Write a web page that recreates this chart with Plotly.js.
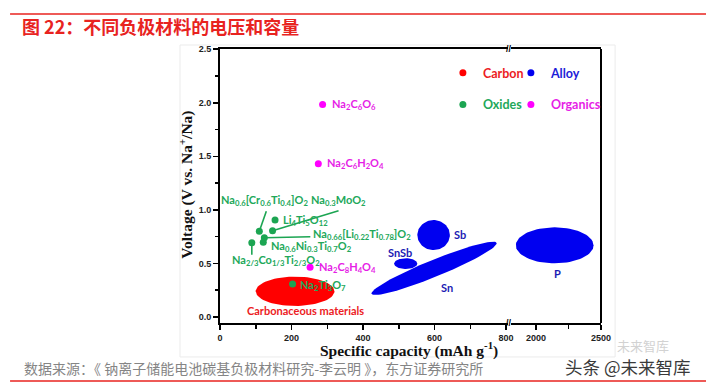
<!DOCTYPE html>
<html>
<head>
<meta charset="utf-8">
<script src="https://cdn.plot.ly/plotly-3.0.1.min.js"></script>
<style>html,body{margin:0;padding:0;background:#fff;}#chart{width:706px;height:386px;}</style>
</head>
<body>
<div id="chart"></div>
<script>
// ---------- data ----------
const oxideNames = [
  'Li<sub>4</sub>Ti<sub>5</sub>O<sub>12</sub>',
  'Na<sub>0.3</sub>MoO<sub>2</sub>',
  'Na<sub>0.6</sub>[Cr<sub>0.6</sub>Ti<sub>0.4</sub>]O<sub>2</sub>',
  'Na<sub>0.66</sub>[Li<sub>0.22</sub>Ti<sub>0.78</sub>]O<sub>2</sub>',
  'Na<sub>0.6</sub>Ni<sub>0.3</sub>Ti<sub>0.7</sub>O<sub>2</sub>',
  'Na<sub>2/3</sub>Co<sub>1/3</sub>Ti<sub>2/3</sub>O<sub>2</sub>',
  'Na<sub>2</sub>Ti<sub>3</sub>O<sub>7</sub>'
];
const oxideCapacity = [154, 147, 110, 124, 121, 89, 203];
const oxideVoltage  = [0.905, 0.805, 0.80, 0.74, 0.697, 0.693, 0.308];

const organicNames = [
  'Na<sub>2</sub>C<sub>6</sub>O<sub>6</sub>',
  'Na<sub>2</sub>C<sub>6</sub>H<sub>2</sub>O<sub>4</sub>',
  'Na<sub>2</sub>C<sub>8</sub>H<sub>4</sub>O<sub>4</sub>'
];
const organicCapacity = [287, 275, 252];
const organicVoltage  = [1.984, 1.43, 0.464];

// capacity / voltage regions (ellipses): major-axis ends and vertical half-extent
const regionNames    = ['Carbonaceous materials', 'Sb', 'SnSb', 'Sn', 'P'];
const regionClass    = ['Carbon', 'Alloy', 'Alloy', 'Alloy', 'Alloy'];
const regionCapStart = [100, 552, 487, 424, 1845];
const regionCapEnd   = [320, 643, 552, 774, 2443];
const regionVStart   = [0.24, 0.765, 0.498, 0.221, 0.669];
const regionVEnd     = [0.24, 0.765, 0.498, 0.688, 0.669];
const regionVHalf    = [0.137, 0.14, 0.05, 0.085, 0.168];

const xTicksLow  = [0, 200, 400, 600, 800];
const xTicksHigh = [2000, 2500];
const yTicks     = [0, 0.5, 1.0, 1.5, 2.0, 2.5];

// ---------- styles ----------
const C = {Carbon:'#ff0000', Alloy:'#0000f0', Oxides:'#1ca552', Organics:'#ff00ff'};
const TXT = {Carbon:'#ec1c24', Alloy:'#1c1cb4', Oxides:'#22a85a', Organics:'#e61ee6'};
const LEG = {Carbon:'#ec1c24', Alloy:'#1c1cd8', Oxides:'#22a85a', Organics:'#e61ee6'};
const labFont = (c) => ({family:'Lato, "Open Sans", sans-serif', size:11, color:c, weight:'bold'});
const BREAK = 1000; // capacities above this belong to the right (broken) segment

// ---------- traces ----------
const traces = [];
const N = 80;
regionNames.forEach((nm, i) => {
  const cx = (regionCapStart[i] + regionCapEnd[i]) / 2;
  const cy = (regionVStart[i] + regionVEnd[i]) / 2;
  const ux = (regionCapEnd[i] - regionCapStart[i]) / 2;
  const uy = (regionVEnd[i] - regionVStart[i]) / 2;
  const xs = [], ys = [];
  for (let k = 0; k <= N; k++) {
    const t = 2 * Math.PI * k / N;
    xs.push(cx + ux * Math.cos(t));
    ys.push(cy + uy * Math.cos(t) + regionVHalf[i] * Math.sin(t));
  }
  traces.push({
    type:'scatter', mode:'lines', x:xs, y:ys, fill:'toself',
    fillcolor:C[regionClass[i]], line:{width:0, color:C[regionClass[i]]},
    xaxis: cx > BREAK ? 'x2' : 'x', yaxis:'y', showlegend:false, hoverinfo:'skip'
  });
});

// legend entries for region classes
traces.push({type:'scatter', mode:'markers', x:[null], y:[null],
  marker:{size:7, color:C.Carbon},
  name:'<span style="color:' + LEG.Carbon + '">Carbon</span>', legend:'legend'});
traces.push({type:'scatter', mode:'markers', x:[null], y:[null],
  marker:{size:7, color:C.Alloy}, legendwidth:60,
  name:'<span style="color:' + LEG.Alloy + '">Alloy</span>', legend:'legend'});

traces.push({type:'scatter', mode:'markers', x:oxideCapacity, y:oxideVoltage,
  marker:{size:7, color:C.Oxides},
  name:'<span style="color:' + LEG.Oxides + '">Oxides</span>', legend:'legend2'});
traces.push({type:'scatter', mode:'markers', x:organicCapacity, y:organicVoltage,
  marker:{size:7, color:C.Organics}, legendwidth:60,
  name:'<span style="color:' + LEG.Organics + '">Organics</span>', legend:'legend2'});

// ---------- labels (layout offsets, px) ----------
const oxideLabelPos = [
  {xs:6, ys:0, xa:'left'},
  {xs:66, ys:30, xa:'center'},
  {xs:5, ys:31, xa:'center'},
  {xs:47, ys:3, xa:'left'},
  {xs:6, ys:-4, xa:'left'},
  {xs:-22, ys:-18, xa:'left'},
  {xs:5, ys:-1, xa:'left'}
];
const oxideLeaders = [null, [66, 20], [7, 20], [46, 1], null, [0, -12], null];
const organicLabelPos = [{xs:7, ys:0}, {xs:7, ys:0}, {xs:7, ys:0}];
const regionLabelPos = [
  {xs:10, ys:-19}, {xs:26, ys:1}, {xs:-6, ys:11}, {xs:13, ys:-19}, {xs:3, ys:-28}
];

const annotations = [];
const shapes = [];
oxideNames.forEach((nm, i) => {
  const p = oxideLabelPos[i];
  annotations.push({x:oxideCapacity[i], y:oxideVoltage[i], xref:'x', yref:'y', text:nm,
    showarrow:false, xanchor:p.xa, yanchor:'middle', xshift:p.xs, yshift:p.ys,
    font:labFont(TXT.Oxides)});
  const L = oxideLeaders[i];
  if (L) shapes.push({type:'line', xref:'x', yref:'y', xsizemode:'pixel', ysizemode:'pixel',
    xanchor:oxideCapacity[i], yanchor:oxideVoltage[i], x0:0, y0:0, x1:L[0], y1:L[1],
    line:{color:C.Oxides, width:1.6}});
});
organicNames.forEach((nm, i) => {
  const p = organicLabelPos[i];
  annotations.push({x:organicCapacity[i], y:organicVoltage[i], xref:'x', yref:'y', text:nm,
    showarrow:false, xanchor:'left', yanchor:'middle', xshift:p.xs, yshift:p.ys,
    font:labFont(TXT.Organics)});
});
regionNames.forEach((nm, i) => {
  const p = regionLabelPos[i];
  const cx = (regionCapStart[i] + regionCapEnd[i]) / 2;
  const cy = (regionVStart[i] + regionVEnd[i]) / 2;
  annotations.push({x:cx, y:cy, xref: cx > BREAK ? 'x2' : 'x', yref:'y', text:nm,
    showarrow:false, xanchor:'center', yanchor:'middle', xshift:p.xs, yshift:p.ys,
    font:labFont(regionClass[i] === 'Carbon' ? TXT.Carbon : TXT.Alloy)});
});

// axis titles, breaks, page texts
const serif = {family:'"Liberation Serif", "Times New Roman", serif', size:15.5, color:'#111', weight:'bold'};
annotations.push({xref:'paper', yref:'paper', x:-0.087, y:0.504, textangle:-90,
  text:'Voltage (V vs. Na<sup>+</sup>/Na)', showarrow:false, xanchor:'center', yanchor:'middle', font:serif});
annotations.push({xref:'paper', yref:'paper', x:0.495, y:-0.0985,
  text:'Specific capacity (mAh g<sup>-1</sup>)', showarrow:false, xanchor:'center', yanchor:'middle', font:serif});
[0, 1].forEach(yy => annotations.push({xref:'paper', yref:'paper', x:0.7598, y:yy, text:'//',
  showarrow:false, xanchor:'center', yanchor:'middle',
  font:{family:'Liberation Sans, Arial', size:9, color:'#000', weight:'bold'}}));
annotations.push({xref:'paper', yref:'paper', x:-0.5197, y:-0.166, xanchor:'left', yanchor:'middle',
  showarrow:false, text:'数据来源：《 钠离子储能电池碳基负极材料研究-李云明 》，东方证券研究所',
  font:{family:'"Noto Sans CJK SC", sans-serif', size:14, color:'#858585'}});
annotations.push({xref:'paper', yref:'paper', x:1.037, y:-0.083, xanchor:'left', yanchor:'middle',
  showarrow:false, text:'未来智库', font:{family:'"Noto Sans CJK SC", sans-serif', size:13, color:'#d2d2d2'}});
annotations.push({xref:'paper', yref:'paper', x:0.9005, y:-0.16, xanchor:'left', yanchor:'middle',
  showarrow:false, text:'头条 @未来智库', font:{family:'"Noto Sans CJK SC", sans-serif', size:17.5, color:'#3a3a3a'}});

// frame pieces and page rules
shapes.push({type:'line', xref:'paper', yref:'paper', x0:1, x1:1, y0:0, y1:1, line:{color:'#000', width:2}});
shapes.push({type:'rect', xref:'paper', yref:'paper', x0:-0.105, x1:1.037, y0:-0.124, y1:1.0146,
  line:{color:'#ebebeb', width:1}, layer:'below'});
shapes.push({type:'line', xref:'paper', yref:'paper', x0:-0.551, x1:1.28, y0:1.1277, y1:1.1277,
  line:{color:'#e8231f', width:1.5}});
shapes.push({type:'line', xref:'paper', yref:'paper', x0:-0.551, x1:1.28, y0:-0.2117, y1:-0.2117,
  line:{color:'#e8231f', width:1.5}});

const tickFont = {family:'"Liberation Sans", Arial, sans-serif', size:9, color:'#222', weight:'bold'};
const axBase = {showline:true, linecolor:'#000', linewidth:2, ticks:'outside', ticklen:5, tickwidth:1.5,
  tickcolor:'#000', showgrid:false, zeroline:false, tickfont:tickFont, fixedrange:true};

const legendBase = {orientation:'h', xanchor:'left', yanchor:'middle', bgcolor:'rgba(0,0,0,0)',
  borderwidth:0, entrywidth:23, entrywidthmode:'pixels', itemwidth:30,
  font:{family:'Lato, "Open Sans", sans-serif', size:12.5, weight:'bold', color:'#000'}};

const layout = {
  width:706, height:386,
  margin:{l:220, r:105, t:49, b:63, pad:0},
  paper_bgcolor:'#fff', plot_bgcolor:'#fff',
  title:{text:'图 22：不同负极材料的电压和容量', xref:'container', yref:'container',
    x:22/706, xanchor:'left', y:1 - 28/386, yanchor:'middle',
    font:{family:'"Noto Sans CJK SC", sans-serif', size:18, color:'#e8231f', weight:'bold'}},
  xaxis:Object.assign({}, axBase, {domain:[0, 0.7559], range:[0, 805.6], anchor:'y',
    tickvals:xTicksLow, ticktext:xTicksLow.map(String), mirror:true,
    minor:{dtick:100, ticks:'outside', ticklen:3.5, tickwidth:1.5, tickcolor:'#000', showgrid:false}}),
  xaxis2:Object.assign({}, axBase, {domain:[0.7638, 1], range:[1807.7, 2500.5], anchor:'y',
    tickvals:xTicksHigh, ticktext:xTicksHigh.map(String), mirror:true,
    minor:{tick0:2000, dtick:250, ticks:'outside', ticklen:3.5, tickwidth:1.5, tickcolor:'#000', showgrid:false}}),
  yaxis:Object.assign({}, axBase, {range:[-0.056, 2.502], tickvals:yTicks, ticktext:yTicks.map(v => v.toFixed(1)),
    minor:{dtick:0.25, ticks:'outside', ticklen:3.5, tickwidth:1.5, tickcolor:'#000', showgrid:false}}),
  legend:Object.assign({}, legendBase, {x:0.585, y:0.912}),
  legend2:Object.assign({}, legendBase, {x:0.585, y:0.796}),
  annotations:annotations,
  shapes:shapes,
  hovermode:false
};

Plotly.newPlot('chart', traces, layout, {displayModeBar:false, staticPlot:true});
</script>
</body>
</html>
